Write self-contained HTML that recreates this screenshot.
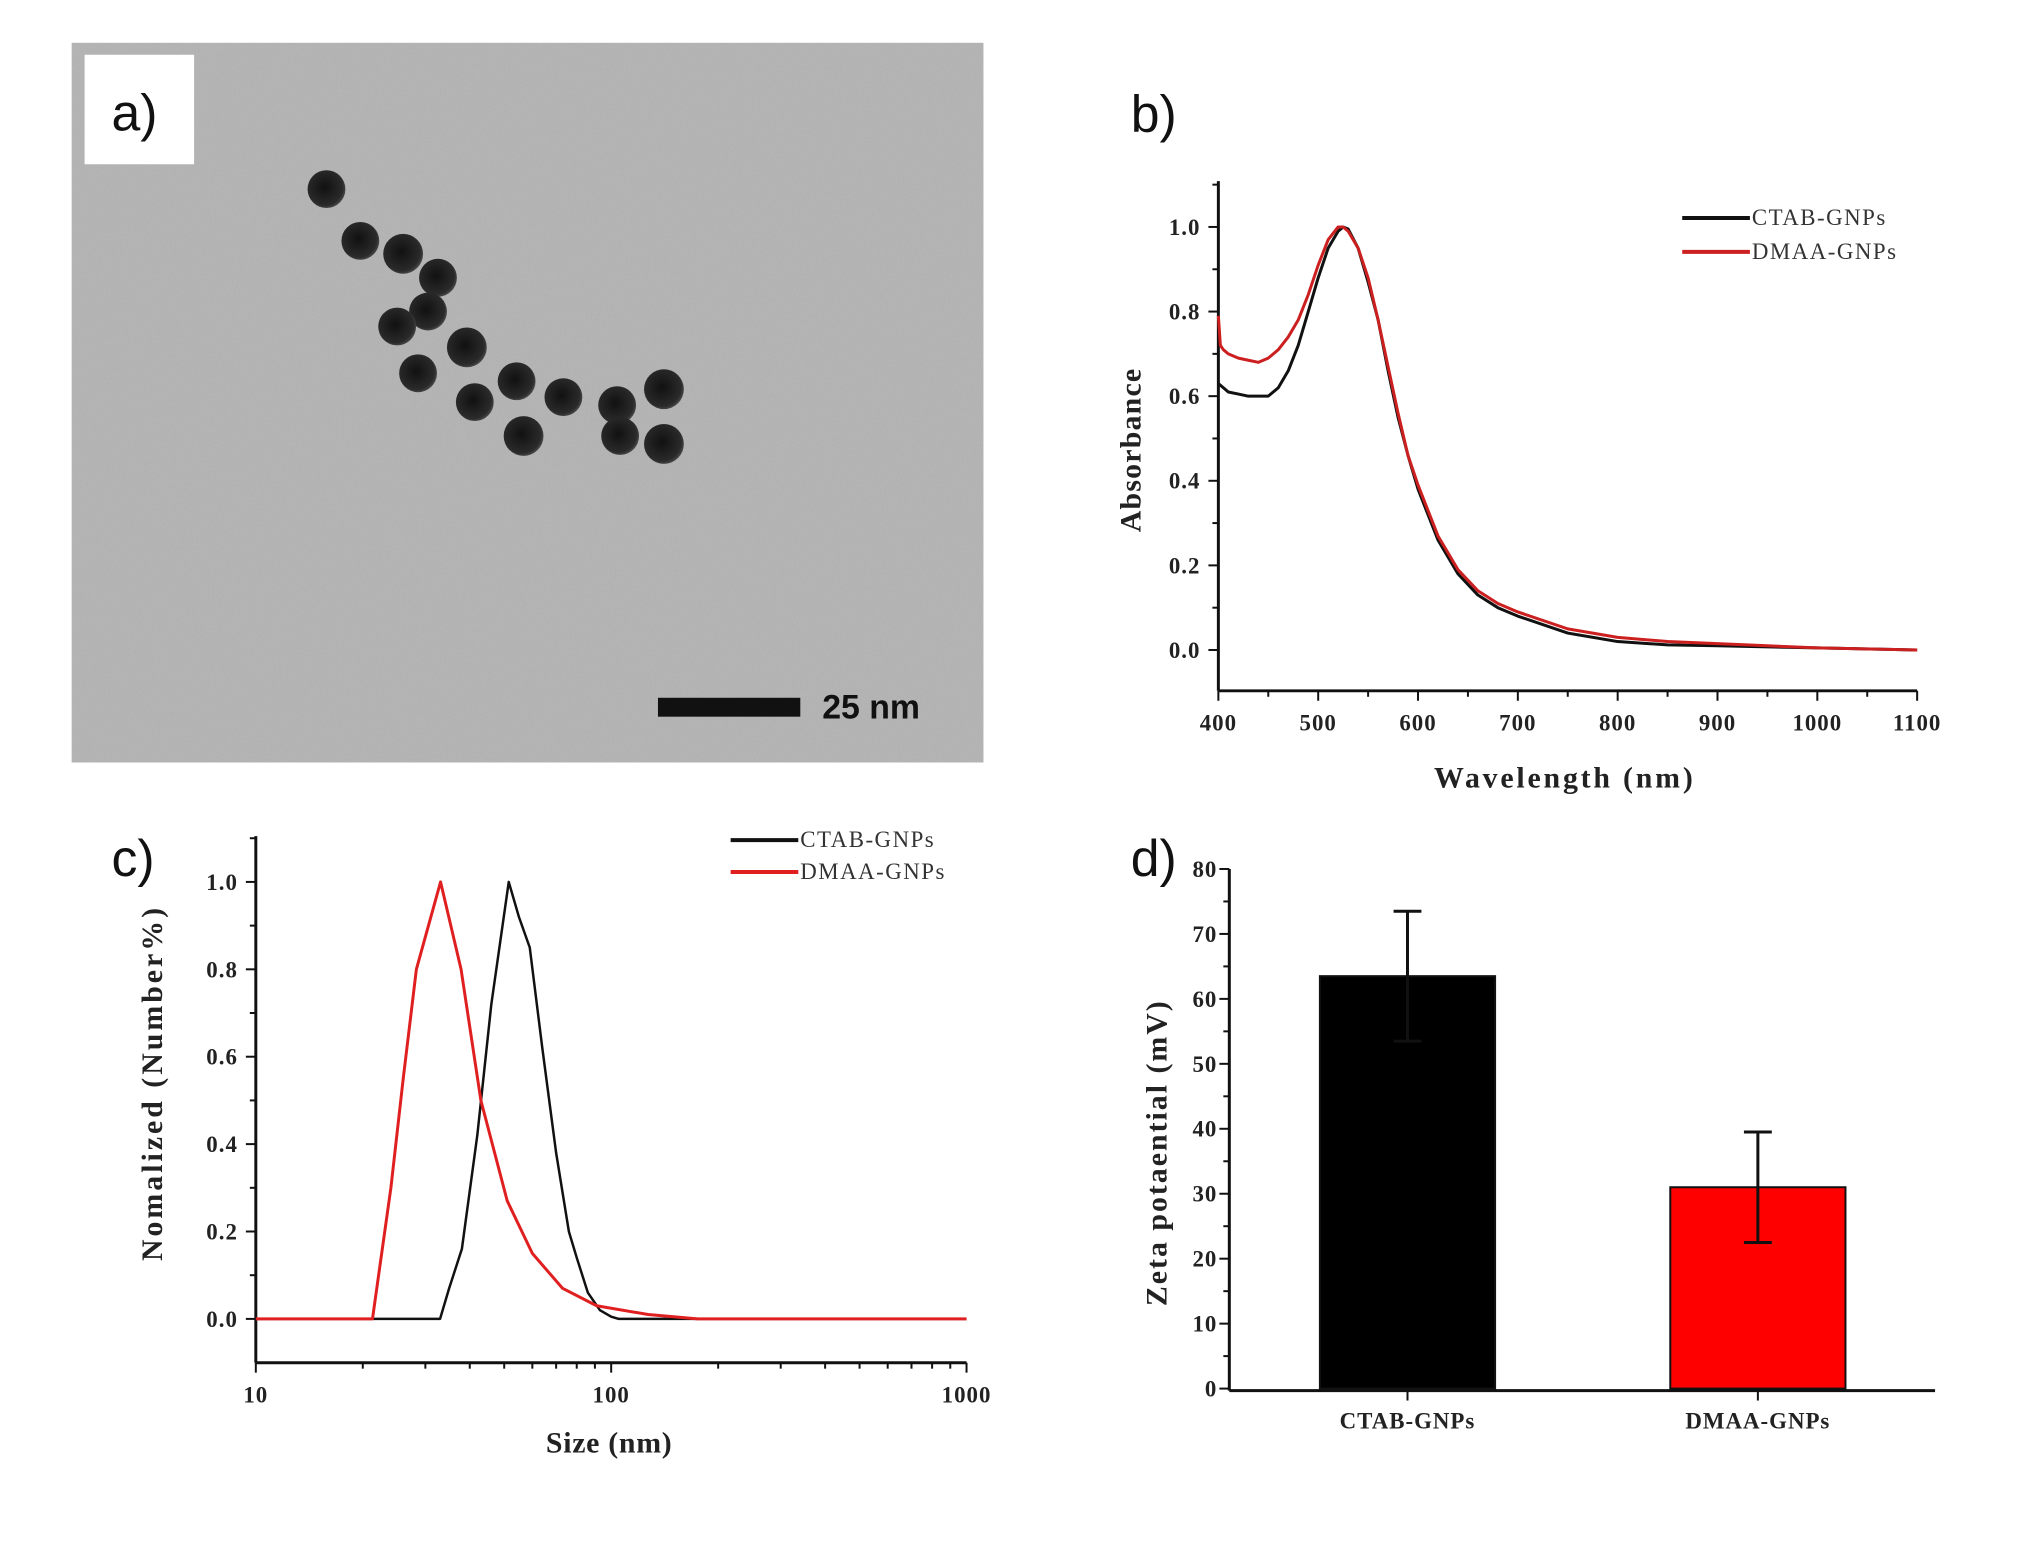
<!DOCTYPE html>
<html><head><meta charset="utf-8">
<style>
html,body{margin:0;padding:0;background:#fff;}
svg{display:block;}
.tk{font-family:"Liberation Serif",serif;font-weight:bold;font-size:23px;fill:#222;letter-spacing:1px;}
.tt{font-family:"Liberation Serif",serif;font-weight:bold;font-size:30px;fill:#222;}
.lg{font-family:"Liberation Serif",serif;font-size:23px;fill:#333;letter-spacing:1.5px;}
.pl{font-family:"Liberation Sans",sans-serif;font-size:52px;fill:#111;}
</style></head>
<body>
<svg id="fig" width="2033" height="1541" viewBox="0 0 2033 1541" xmlns="http://www.w3.org/2000/svg">
<defs>
<filter id="grain" x="0" y="0" width="100%" height="100%">
<feTurbulence type="fractalNoise" baseFrequency="0.45" numOctaves="2" seed="3" result="n"/>
<feColorMatrix type="matrix" values="0 0 0 0 0.5  0 0 0 0 0.5  0 0 0 0 0.5  0.9 0 0 0 -0.2" in="n" result="m"/>
<feComposite in="m" in2="SourceGraphic" operator="in"/>
</filter>
<radialGradient id="np" cx="0.45" cy="0.45" r="0.6">
<stop offset="0" stop-color="#111"/><stop offset="0.8" stop-color="#2a2a2a"/><stop offset="1" stop-color="#555"/>
</radialGradient>
</defs>
<g transform="scale(0.9954)">
<g id="panelA">
<rect x="72" y="43" width="916" height="723" fill="#b2b2b2"/>
<rect x="72" y="43" width="916" height="723" fill="#b2b2b2" filter="url(#grain)" opacity="0.6"/>
<g id="particles"></g>
<rect x="85" y="55" width="110" height="110" fill="#fff"/>
<text x="112" y="131" class="pl">a)</text>
<rect x="661" y="701" width="143" height="19" fill="#111"/>
<text x="826" y="722" font-family="Liberation Sans,sans-serif" font-weight="bold" font-size="34" fill="#111">25 nm</text>
</g>
<text x="1136" y="132" class="pl">b)</text>
<text x="112" y="880" class="pl">c)</text>
<text x="1136" y="880" class="pl">d)</text>
<g id="chartB"></g>
<g id="chartC"></g>
<g id="chartD"></g>
</g>
</svg>
<script>
// Panel a particle positions (image features)
const npX=[328,362,405,440,430,399,469,420,477,519,526,566,620,667,623,667];
const npY=[190,242,255,279,313,328,349,375,404,383,438,399,407,391,438,446];
const npR=[19,19,20,19,19,19,20,19,19,19,20,19,19,20,19,20];
// Panel b data
const bWlC=[400,405,410,420,430,440,450,460,470,480,490,500,510,520,525,530,540,550,560,570,580,590,600,620,640,660,680,700,750,800,850,900,1000,1100];
const bAbsC=[0.63,0.62,0.61,0.605,0.60,0.60,0.60,0.62,0.66,0.72,0.80,0.88,0.95,0.99,1.0,0.995,0.95,0.87,0.78,0.66,0.55,0.46,0.38,0.26,0.18,0.13,0.10,0.08,0.04,0.02,0.012,0.01,0.005,0.0];
const bWlD=[400,402,405,410,420,430,440,450,460,470,480,490,500,510,520,525,530,540,550,560,570,580,590,600,620,640,660,680,700,750,800,850,900,1000,1100];
const bAbsD=[0.79,0.72,0.71,0.70,0.69,0.685,0.68,0.69,0.71,0.74,0.78,0.84,0.91,0.97,1.0,1.0,0.99,0.95,0.88,0.78,0.67,0.56,0.46,0.39,0.27,0.19,0.14,0.11,0.09,0.05,0.03,0.02,0.015,0.005,0.0];
const bXTicks=[400,500,600,700,800,900,1000,1100];
const bYTicks=[0.0,0.2,0.4,0.6,0.8,1.0];
// Panel c data
const cSizeC=[10,33,35,38,42,46,51.5,55,59,64,70,76,80,86,93,100,105,1000];
const cValC=[0,0,0.07,0.16,0.42,0.72,1.0,0.92,0.85,0.62,0.38,0.2,0.14,0.06,0.02,0.005,0,0];
const cSizeD=[10,21.3,24,26,28.3,33.1,37.8,43,51,60,73,91,127,175,1000];
const cValD=[0,0,0.3,0.55,0.8,1.0,0.8,0.5,0.27,0.15,0.07,0.03,0.01,0,0];
const cXTicks=[10,100,1000];
const cYTicks=[0.0,0.2,0.4,0.6,0.8,1.0];
// Panel d data
const dCats=["CTAB-GNPs","DMAA-GNPs"];
const dVals=[63.5,31];
const dErr=[10,8.5];
const dColors=["#000000","#ff0000"];
const dYTicks=[0,10,20,30,40,50,60,70,80];

const NS="http://www.w3.org/2000/svg";
function mk(tag,attrs,parent){const e=document.createElementNS(NS,tag);for(const k in attrs)e.setAttribute(k,attrs[k]);parent.appendChild(e);return e;}

const pg=document.getElementById('particles');
for(let i=0;i<npX.length;i++){
 const c=mk('circle',{cx:npX[i],cy:npY[i],r:npR[i],fill:'url(#np)'},pg);
 
 
}

function axesFrame(g,x0,x1,yTop,yBot,name){
 const l=mk('line',{x1:x0,y1:yTop,x2:x0,y2:yBot,stroke:'#111','stroke-width':3},g);
 
 
 const b=mk('line',{x1:x0,y1:yBot,x2:x1,y2:yBot,stroke:'#111','stroke-width':3},g);
 
 
}
function txt(g,x,y,s,cls,anchor,name,rot,ls){
 const t=mk('text',{x:x,y:y,'class':cls,'text-anchor':anchor||'middle'},g);
 if(rot)t.setAttribute('transform','rotate(-90 '+x+' '+y+')');
 if(ls)t.setAttribute('letter-spacing',ls);
 t.textContent=s;
 
 
 return t;
}
function path(g,xs,ys,fx,fy,col,w,name){
 let d='';for(let i=0;i<xs.length;i++)d+=(i?'L':'M')+fx(xs[i]).toFixed(1)+','+fy(ys[i]).toFixed(1);
 const p=mk('path',{d:d,fill:'none',stroke:col,'stroke-width':w,'stroke-linejoin':'round'},g);
 
 
}
function legend(g,x,y,col,label,name){
 const l=mk('line',{x1:x,y1:y,x2:x+68,y2:y,stroke:col,'stroke-width':4},g);
 
 
 txt(g,x+70,y+7,label,'lg','start',name+'-label');
}

// Chart B
(function(){
 const g=document.getElementById('chartB');
 const X0=1224,X1=1926,YT=182,YB=694;
 const fx=v=>X0+(v-400)/700*(X1-X0);
 const fy=v=>653-v*(653-228);
 axesFrame(g,X0,X1,YT,YB,'b');
 bXTicks.forEach((v,i)=>{
  const t=mk('line',{x1:fx(v),y1:YB,x2:fx(v),y2:YB+10,stroke:'#111','stroke-width':2},g);
  
  if(i<bXTicks.length-1){const m=mk('line',{x1:fx(v+50),y1:YB,x2:fx(v+50),y2:YB+6,stroke:'#111','stroke-width':2},g);
  }
  txt(g,fx(v),YB+40,String(v),'tk','middle','b-x-tick-label');
 });
 bYTicks.forEach(v=>{
  const t=mk('line',{x1:X0-10,y1:fy(v),x2:X0,y2:fy(v),stroke:'#111','stroke-width':2},g);
  
  const m=mk('line',{x1:X0-6,y1:fy(v+0.1),x2:X0,y2:fy(v+0.1),stroke:'#111','stroke-width':2},g);
  
  txt(g,X0-18,fy(v)+8,v.toFixed(1),'tk','end','b-y-tick-label');
 });
 path(g,bWlC,bAbsC,fx,fy,'#111',3,'ctab-absorbance-line');
 path(g,bWlD,bAbsD,fx,fy,'#cc2020',3,'dmaa-absorbance-line');
 txt(g,1572,791,'Wavelength (nm)','tt','middle','b-x-axis-title',false,'2.8');
 txt(g,1146,452,'Absorbance','tt','middle','b-y-axis-title',true,'1.2');
 legend(g,1690,219,'#111','CTAB-GNPs','b-legend-ctab');
 legend(g,1690,253,'#cc2020','DMAA-GNPs','b-legend-dmaa');
})();

// Chart C
(function(){
 const g=document.getElementById('chartC');
 const X0=257,X1=971,YT=840,YB=1369;
 const fx=v=>X0+(Math.log10(v)-1)/2*(X1-X0);
 const fy=v=>1325-v*(1325-886);
 axesFrame(g,X0,X1,YT,YB,'c');
 cXTicks.forEach(v=>{
  const t=mk('line',{x1:fx(v),y1:YB,x2:fx(v),y2:YB+10,stroke:'#111','stroke-width':2},g);
  
  txt(g,fx(v),YB+40,String(v),'tk','middle','c-x-tick-label');
 });
 [20,30,40,50,60,70,80,90,200,300,400,500,600,700,800,900].forEach(v=>{
  const m=mk('line',{x1:fx(v),y1:YB,x2:fx(v),y2:YB+6,stroke:'#111','stroke-width':2},g);
  
 });
 cYTicks.forEach(v=>{
  const t=mk('line',{x1:X0-10,y1:fy(v),x2:X0,y2:fy(v),stroke:'#111','stroke-width':2},g);
  
  const m=mk('line',{x1:X0-6,y1:fy(v+0.1),x2:X0,y2:fy(v+0.1),stroke:'#111','stroke-width':2},g);
  
  txt(g,X0-18,fy(v)+8,v.toFixed(1),'tk','end','c-y-tick-label');
 });
 path(g,cSizeC,cValC,fx,fy,'#111',2.5,'ctab-size-line');
 path(g,cSizeD,cValD,fx,fy,'#e02020',3,'dmaa-size-line');
 txt(g,612,1459,'Size (nm)','tt','middle','c-x-axis-title',false,'0.7');
 txt(g,163,1088,'Nomalized (Number%)','tt','middle','c-y-axis-title',true,'3');
 legend(g,734,844,'#111','CTAB-GNPs','c-legend-ctab');
 legend(g,734,876,'#e02020','DMAA-GNPs','c-legend-dmaa');
})();

// Chart D
(function(){
 const g=document.getElementById('chartD');
 const X0=1235,X1=1944,YB=1397;
 const fy=v=>1395-v*(1395-873)/80;
 const centers=[1414,1766],bw=176;
 axesFrame(g,X0,X1,fy(80),YB,'d');
 dYTicks.forEach((v,i)=>{
  const t=mk('line',{x1:X0-10,y1:fy(v),x2:X0,y2:fy(v),stroke:'#111','stroke-width':2},g);
  
  if(i<dYTicks.length-1){const m=mk('line',{x1:X0-6,y1:fy(v+5),x2:X0,y2:fy(v+5),stroke:'#111','stroke-width':2},g);
  }
  txt(g,X0-12,fy(v)+8,String(v),'tk','end','d-y-tick-label');
 });
 dCats.forEach((c,i)=>{
  const cx=centers[i];
  const r=mk('rect',{x:cx-bw/2,y:fy(dVals[i]),width:bw,height:fy(0)-fy(dVals[i]),fill:dColors[i],stroke:'#111','stroke-width':2},g);
  
  
  const e=mk('path',{d:'M'+cx+','+fy(dVals[i]-dErr[i])+'V'+fy(dVals[i]+dErr[i])+'M'+(cx-14)+','+fy(dVals[i]+dErr[i])+'H'+(cx+14)+'M'+(cx-14)+','+fy(dVals[i]-dErr[i])+'H'+(cx+14),stroke:'#111','stroke-width':3,fill:'none'},g);
  
  
  const t=mk('line',{x1:cx,y1:YB,x2:cx,y2:YB+10,stroke:'#111','stroke-width':2},g);
  
  txt(g,cx,YB+38,c,'tk','middle','d-x-tick-label');
 });
 txt(g,1172,1158,'Zeta potaential (mV)','tt','middle','d-y-axis-title',true,'2');
})();
</script>
</body></html>
